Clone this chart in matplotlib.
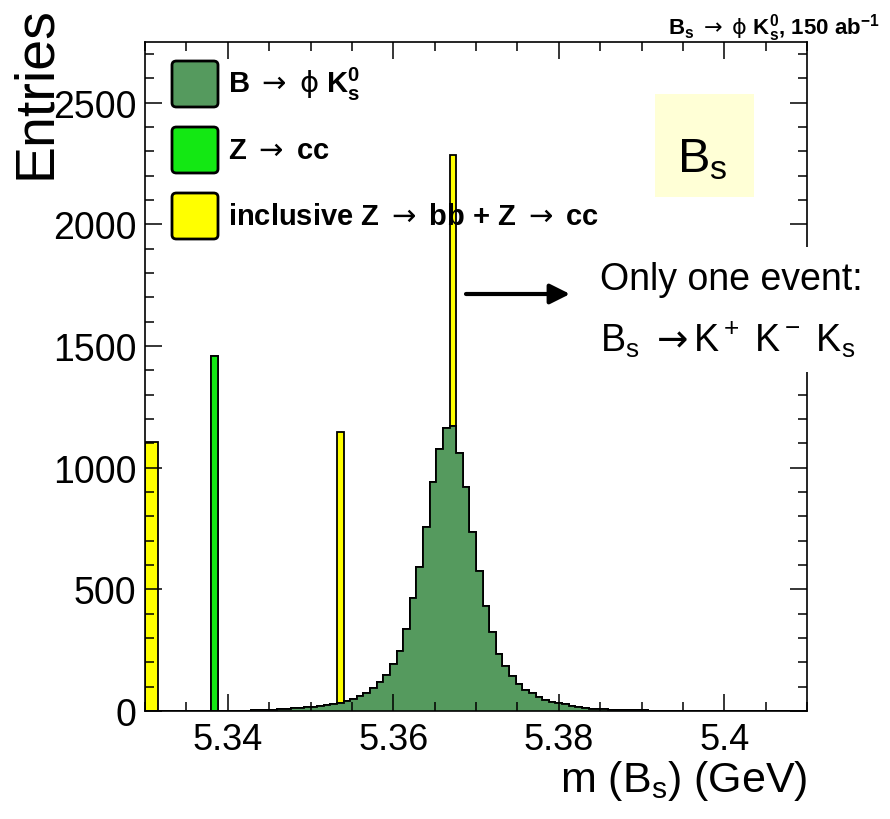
import numpy as np
import matplotlib
matplotlib.use("Agg")
import matplotlib.pyplot as plt
from matplotlib.patches import FancyBboxPatch, Rectangle
from matplotlib.ticker import MultipleLocator, FuncFormatter

plt.rcParams["font.family"] = ["Liberation Sans", "DejaVu Sans"]
plt.rcParams["mathtext.fontset"] = "custom"
plt.rcParams["mathtext.rm"] = "Liberation Sans"
plt.rcParams["mathtext.it"] = "Liberation Sans:italic"
plt.rcParams["mathtext.bf"] = "Liberation Sans:bold"
plt.rcParams["mathtext.sf"] = "DejaVu Sans"

# binning of the m(Bs) histogram
m_lo, m_hi, n_bins = 5.33, 5.41, 100

# signal B -> phi Ks, bins 16..85 (entries)
sig_first_bin = 16
sig_counts = [3, 4, 5, 6,
              8, 10, 11, 13, 15, 18, 21, 24, 28, 33,
              40, 48, 60, 75, 95, 118, 148, 193, 248, 337,
              463, 590, 757, 942, 1079, 1165, 1172, 1060, 919, 734,
              576, 432, 323, 234, 186, 145, 111, 88, 74, 59,
              47, 38, 33, 29, 22, 16, 12, 10, 8, 7,
              6, 5, 4, 4, 3, 3, 2, 2, 2, 1,
              1, 1, 1, 1, 1, 1]
# Z -> cc background
zcc_bins = [10]
zcc_counts = [1460]
# inclusive Z -> bb + Z -> cc background
incl_bins = [0, 1, 29, 46]
incl_counts = [1105, 1105, 1112, 1112]

yellow = "#ffff00"
bright_green = "#13e813"
dark_green = "#559a5e"

edges = np.linspace(m_lo, m_hi, n_bins + 1)
sig = np.zeros(n_bins)
sig[sig_first_bin:sig_first_bin + len(sig_counts)] = sig_counts
zcc = np.zeros(n_bins)
zcc[zcc_bins] = zcc_counts
incl = np.zeros(n_bins)
incl[incl_bins] = incl_counts

W, H = 890, 820
fig = plt.figure(figsize=(W / 100, H / 100), dpi=100)
ax = fig.add_axes([145 / W, 1 - 712 / H, 662 / W, 669 / H])


def fx(px):
    return px / W


def fy(py):
    return 1 - py / H


ARR = r"$\mathsf{\rightarrow}$"
PHI = r"$\mathsf{\phi}$"

# stacked histogram, drawn top layer first
ax.stairs(sig + zcc + incl, edges, fill=True, facecolor=yellow, edgecolor="k", lw=1.3)
ax.stairs(sig + zcc, edges, fill=True, facecolor=bright_green, edgecolor="k", lw=1.3)
ax.stairs(sig, edges, fill=True, facecolor=dark_green, edgecolor="k", lw=1.3)

ax.set_xlim(m_lo, m_hi)
ax.set_ylim(0, 2750)
ax.xaxis.set_major_locator(MultipleLocator(0.02))
ax.xaxis.set_minor_locator(MultipleLocator(0.005))
ax.xaxis.set_major_formatter(FuncFormatter(lambda v, p: f"{v:g}"))
ax.yaxis.set_major_locator(MultipleLocator(500))
ax.yaxis.set_minor_locator(MultipleLocator(100))
ax.tick_params(which="both", direction="in", top=True, right=True, width=1.1)
ax.tick_params(which="major", length=12)
ax.tick_params(which="minor", length=6.5)
ax.tick_params(axis="x", labelsize=26, pad=8)
ax.tick_params(axis="y", labelsize=27, pad=6)
for s in ax.spines.values():
    s.set_linewidth(1.2)

fig.text(fx(36), fy(6), "Entries", rotation=90, ha="center", va="top", fontsize=40)
fig.text(fx(808), fy(792), r"m (B$_\mathrm{s}$) (GeV)", ha="right", va="baseline", fontsize=31)
fig.text(fx(880), fy(34),
         r"B$_\mathbf{s}$ " + ARR + " " + PHI + r" K$^\mathbf{0}_\mathbf{s}$, 150 ab$^\mathbf{-1}$",
         ha="right", va="baseline", fontsize=16, fontweight="bold")

# legend
leg_labels = ["B " + ARR + " " + PHI + r" K$^\mathbf{0}_\mathbf{s}$",
              "Z " + ARR + " cc",
              "inclusive Z " + ARR + " bb + Z " + ARR + " cc"]
leg_colors = [dark_green, bright_green, yellow]
leg_tops = [62, 128, 194]
for lab, col, top in zip(leg_labels, leg_colors, leg_tops):
    box = FancyBboxPatch((fx(172), fy(top + 46)), 46 / W, 46 / H,
                         boxstyle="round,pad=0,rounding_size=0.005",
                         transform=fig.transFigure, facecolor=col, edgecolor="k", lw=2)
    fig.add_artist(box)
    fig.text(fx(228), fy(top + 31), lab, ha="left", va="baseline", fontsize=21, fontweight="bold")

# Bs box
fig.add_artist(Rectangle((fx(655), fy(198)), 99 / W, 103 / H, transform=fig.transFigure,
                         facecolor="#ffffd6", edgecolor="none"))
fig.text(fx(677), fy(172), r"B$_\mathrm{s}$", ha="left", va="baseline", fontsize=35)

# annotation
fig.add_artist(Rectangle((fx(585), fy(373)), 305 / W, 125 / H, transform=fig.transFigure,
                         facecolor="white", edgecolor="none", zorder=2))
fig.text(fx(600), fy(290), "Only one event:", ha="left", va="baseline", fontsize=27, zorder=3)
fig.text(fx(600), fy(352), r"B$_\mathrm{s}$ " + ARR + r"K$^+$ K$^-$ K$_\mathrm{s}$",
         ha="left", va="baseline", fontsize=27, zorder=3)
ax.annotate("", xy=(fx(570), fy(295)), xytext=(fx(466), fy(295)),
            xycoords="figure fraction", textcoords="figure fraction",
            arrowprops=dict(arrowstyle="-|>", color="k", lw=3, mutation_scale=30,
                            shrinkA=0, shrinkB=0))

fig.savefig("out.png", dpi=100)
